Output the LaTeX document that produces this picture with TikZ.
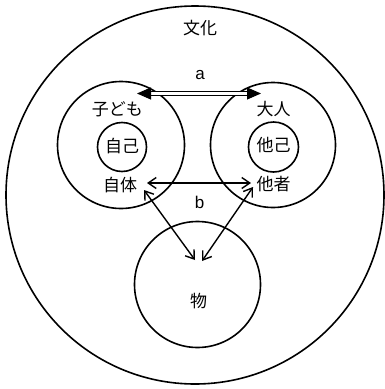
\documentclass[tikz,border=0pt]{standalone}
\usepackage{fontspec}
\setmainfont{Liberation Sans}
\newfontfamily\jp{Noto Sans CJK JP}
\usetikzlibrary{arrows.meta}
\begin{document}
\begin{tikzpicture}[x=1pt,y=-1pt,
  ring/.style={draw, circle, line width=1.6pt, inner sep=0pt},
  lbl/.style={font=\jp\fontsize{17}{17}\selectfont, inner sep=0pt},
  lat/.style={font=\fontsize{17}{17}\selectfont, inner sep=0pt},
  barb/.style={line width=1.4pt, {Straight Barb[length=8pt,width=11pt]}-{Straight Barb[length=8pt,width=11pt]}}
]
\useasboundingbox (0,0) rectangle (384,389);
\node[ring, minimum size=378pt] (outer) at (195,195) {};
\node[ring, minimum size=127pt] (kodomo) at (121,145) {};
\node[ring, minimum size=49pt] (jiko) at (122,147) {};
\node[ring, minimum size=125pt] (otona) at (273,145) {};
\node[ring, minimum size=50pt] (tako) at (273.5,147) {};
\node[ring, minimum size=126pt] (mono) at (197.5,284.5) {};

\node[lbl] (bunka) at (200,28) {文化};
\node[lbl] (tkodomo) at (117.5,109) {子ども};
\node[lbl] (tjiko) at (122,146) {自己};
\node[lbl] (tjitai) at (120,185) {自体};
\node[lbl] (totona) at (273.5,109.5) {大人};
\node[lbl] (ttako) at (273.5,145.5) {他己};
\node[lbl] (ttasha) at (273.5,184.5) {他者};
\node[lbl] (tmono) at (198.5,301.5) {物};
\node[lat] (la) at (200,75) {a};
\node[lat] (lb) at (199.5,202.5) {b};

\coordinate (aL) at (137,93.5);
\coordinate (aR) at (261,93.5);
\draw[line width=1pt, double, double distance=2.6pt,
  {Triangle[length=14pt,width=12pt]}-{Triangle[length=14pt,width=12pt]}] (aL) -- (aR);

\coordinate (bL) at (147,183);
\coordinate (bR) at (251,183);
\draw[barb] (bL) -- (bR);

\coordinate (c1) at (144,190);
\coordinate (c2) at (195,260);
\draw[barb] (c1) -- (c2);
\coordinate (d1) at (253,187);
\coordinate (d2) at (202,261);
\draw[barb] (d1) -- (d2);
\end{tikzpicture}
\end{document}
